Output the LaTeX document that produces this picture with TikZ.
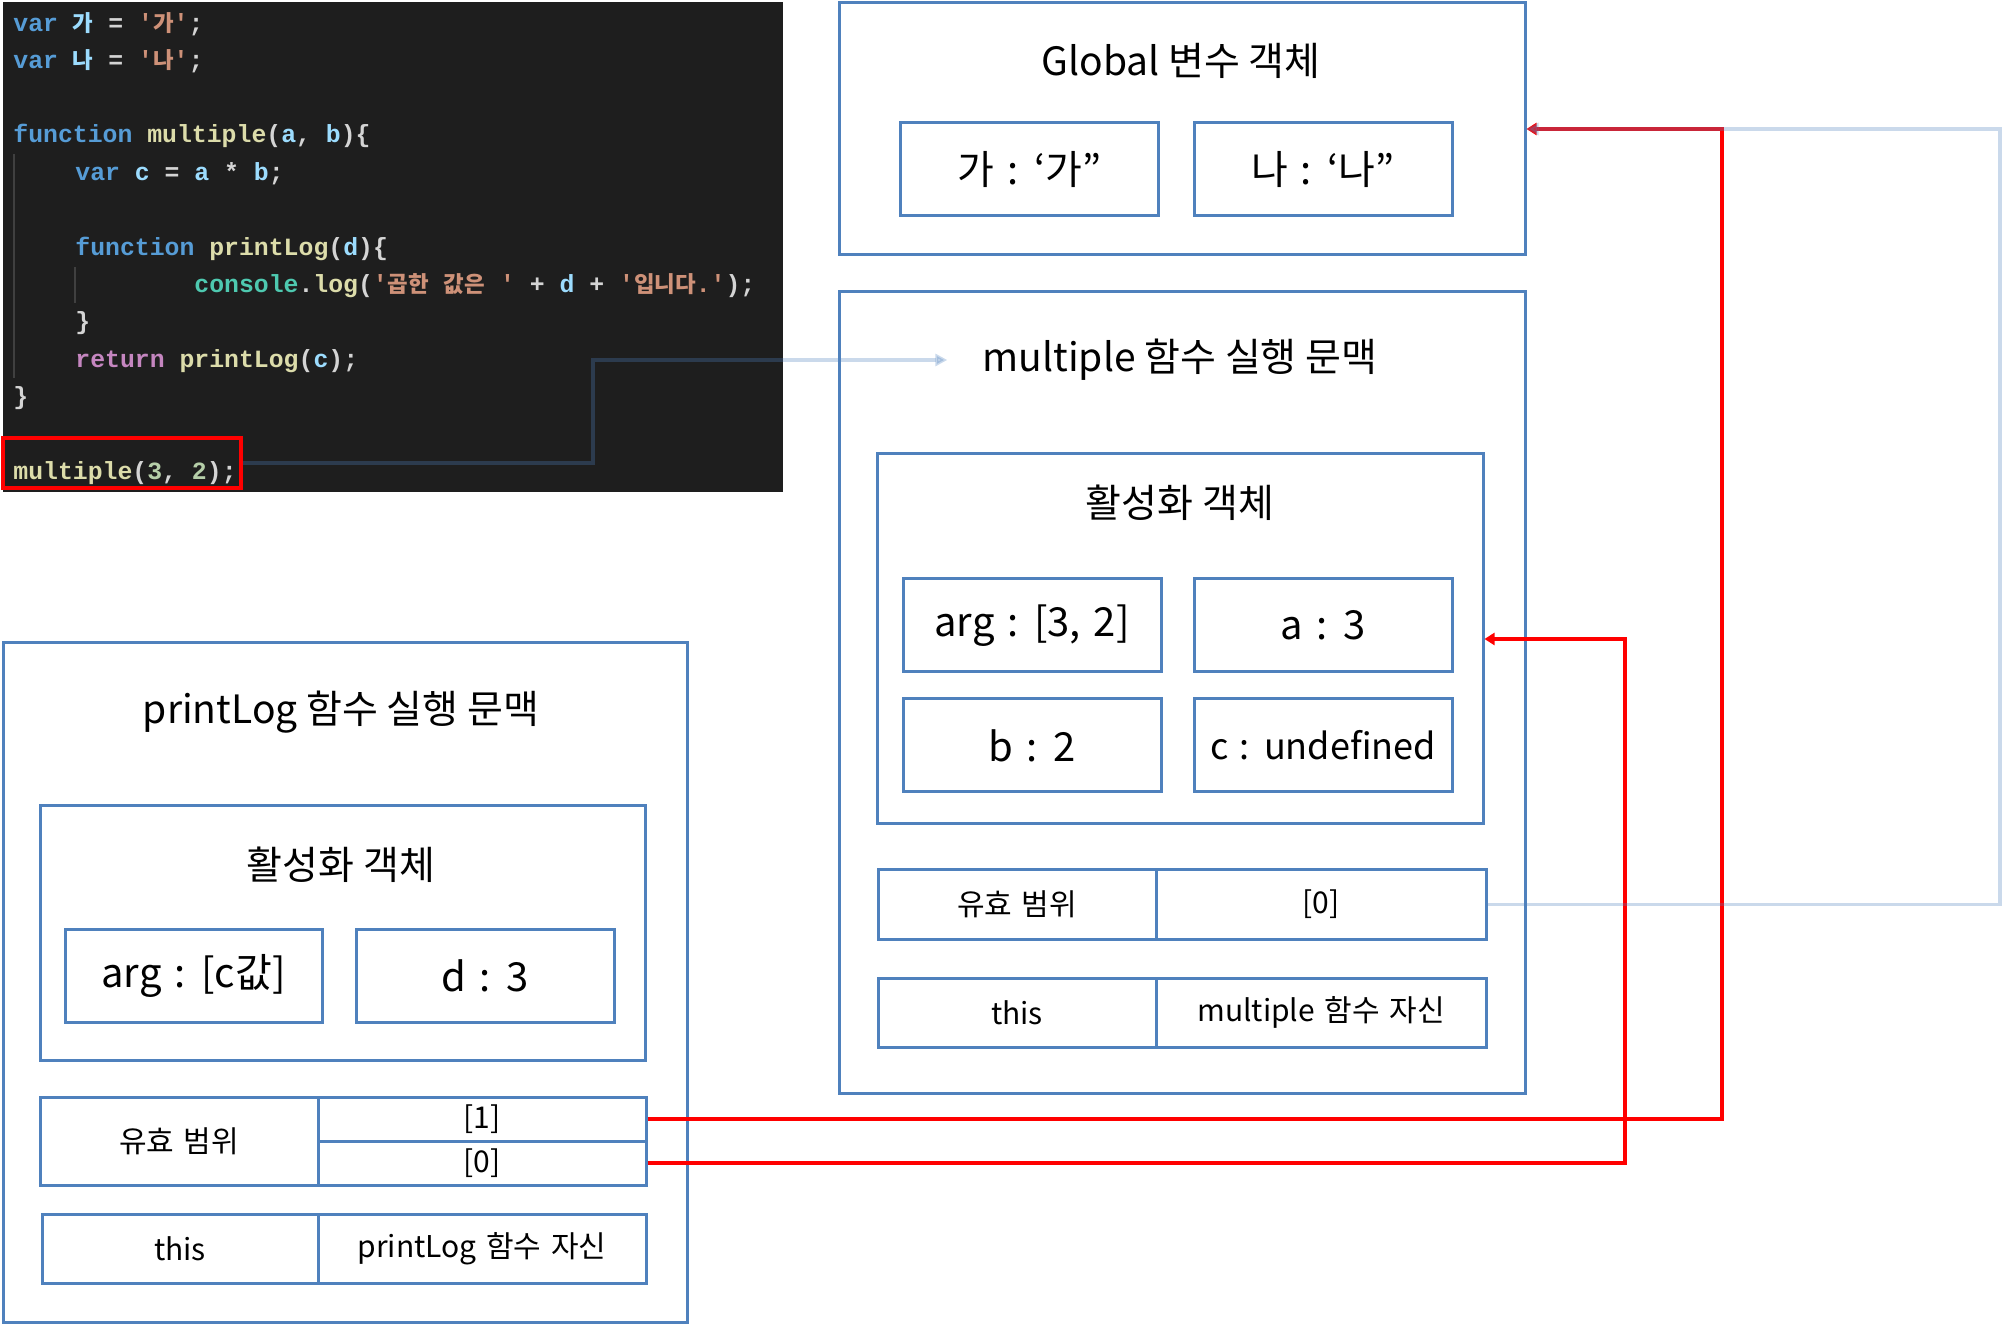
\documentclass[tikz,border=0pt]{standalone}
\usepackage{fontspec}
\setmainfont{Noto Sans CJK KR}
\newfontfamily\codefont{Liberation Mono}
\newfontfamily\codekr{Noto Sans CJK KR}
\usetikzlibrary{arrows.meta}
\definecolor{boxblue}{RGB}{79,129,189}
\definecolor{codebg}{RGB}{30,30,30}
\definecolor{guide}{RGB}{64,64,64}
\definecolor{plain}{RGB}{212,212,212}
\definecolor{kwblue}{RGB}{86,156,214}
\definecolor{varblue}{RGB}{156,220,254}
\definecolor{fnyellow}{RGB}{220,220,170}
\definecolor{strorange}{RGB}{206,145,120}
\definecolor{clsteal}{RGB}{78,201,176}
\definecolor{retpink}{RGB}{197,134,192}
\definecolor{numgreen}{RGB}{181,206,168}
\newcommand{\kwd}[1]{\textcolor{kwblue}{#1}}
\newcommand{\vname}[1]{\textcolor{varblue}{#1}}
\newcommand{\fnm}[1]{\textcolor{fnyellow}{#1}}
\newcommand{\strg}[1]{\textcolor{strorange}{#1}}
\newcommand{\clsn}[1]{\textcolor{clsteal}{#1}}
\newcommand{\retn}[1]{\textcolor{retpink}{#1}}
\newcommand{\numb}[1]{\textcolor{numgreen}{#1}}
\newcommand{\hk}[1]{{\codekr\fontsize{11.2}{14}\selectfont #1}}
\newcommand{\q}{\textquotesingle}
\newcommand{\widesp}{\spaceskip=0.32em\relax}

\tikzset{
  frame/.style={draw=boxblue, line width=1.5pt, inner sep=0pt},
  cell/.style={frame, minimum width=129pt, minimum height=46.5pt, font=\fontsize{20}{24}\selectfont\widesp},
  row/.style={frame, minimum height=34.5pt, font=\fontsize{15}{18}\selectfont\widesp},
  title/.style={inner sep=0pt, font=\fontsize{19.5}{24}\selectfont},
  codeline/.style={anchor=base west, inner sep=0pt, text=plain, font=\codefont\bfseries\fontsize{12.4}{14}\selectfont},
  redlink/.style={draw=red, line width=1.75pt, -{Triangle[length=5pt,width=6pt]}},
  bluelink/.style={draw=boxblue, opacity=0.3, line width=1.75pt, -{Triangle[length=6pt,width=6pt]}}
}

\begin{document}
\begin{tikzpicture}[x=0.5pt,y=-0.5pt]
\useasboundingbox (0,0) rectangle (2003,1325);

% code screenshot
\fill[codebg] (3,2) rectangle (783,492);
\draw[guide, line width=1pt] (14,154) -- (14,378);
\draw[guide, line width=1pt] (75,267) -- (75,303);
\node[codeline] (l1) at (13,32) {\kwd{var} \vname{\hk{가}} = \strg{\q\hk{가}\q};};
\node[codeline] (l2) at (13,69) {\kwd{var} \vname{\hk{나}} = \strg{\q\hk{나}\q};};
\node[codeline] (l3) at (13,143) {\kwd{function} \fnm{multiple}(\vname{a}, \vname{b})\{};
\node[codeline] (l4) at (75,181) {\kwd{var} \vname{c} = \vname{a} * \vname{b};};
\node[codeline] (l5) at (75,256) {\kwd{function} \fnm{printLog}(\vname{d})\{};
\node[codeline] (l6) at (194,293) {\clsn{console}.\fnm{log}(\strg{\q\hk{곱한} \hk{값은} \q} + \vname{d} + \strg{\q\hk{입니다}.\q});};
\node[codeline] (l7) at (75,330) {\}};
\node[codeline] (l8) at (75,368) {\retn{return} \fnm{printLog}(\vname{c});};
\node[codeline] (l9) at (13,405) {\}};
\node[codeline] (l10) at (13,480) {\fnm{multiple}(\numb{3}, \numb{2});};
\node[draw=red, line width=2pt, inner sep=0pt, minimum width=119pt, minimum height=25pt] (call) at (122,463) {};

% global variable object
\node[frame, minimum width=343pt, minimum height=126pt] (global) at (1182,129) {};
\node[title] (gtitle) at (1181,61) {Global 변수 객체};
\node[cell] (gga) at (1029.5,169.5) {가 : ‘가”};
\node[cell] (gna) at (1323,169.5) {나 : ‘나”};

% multiple context
\node[frame, minimum width=343pt, minimum height=400.5pt] (mctx) at (1182,692.5) {};
\node[title] (mtitle) at (1180,360) {multiple 함수 실행 문맥};
\node[frame, minimum width=303pt, minimum height=185pt] (mact) at (1180,639) {};
\node[title] (macttitle) at (1180,503) {활성화 객체};
\node[cell] (marg) at (1032,625.5) {arg : [3, 2]};
\node[cell] (ma) at (1323,625.5) {a : 3};
\node[cell] (mb) at (1032,745.5) {b : 2};
\node[cell, font=\fontsize{18}{22}\selectfont\widesp] (mc) at (1323,745.5) {c : undefined};
\node[row, minimum width=139pt] (mscopek) at (1017,904.5) {유효 범위};
\node[row, minimum width=165pt] (mscope0) at (1321,904.5) {[0]};
\node[row, minimum width=139pt] (mthis) at (1017,1012.5) {this};
\node[row, minimum width=165pt] (mself) at (1321,1012.5) {multiple 함수 자신};

% printLog context
\node[frame, minimum width=342pt, minimum height=339.5pt] (pctx) at (345,982.5) {};
\node[title] (ptitle) at (341,712) {printLog 함수 실행 문맥};
\node[frame, minimum width=302.5pt, minimum height=127pt] (pact) at (342.5,933) {};
\node[title] (pacttitle) at (341,865) {활성화 객체};
\node[cell, minimum width=128.5pt] (parg) at (193.5,975.5) {arg : [c값]};
\node[cell] (pd) at (485,975.5) {d : 3};
\node[row, minimum width=139pt, minimum height=44pt] (pscopek) at (179,1141) {유효 범위};
\node[row, minimum width=164pt, minimum height=22pt] (pscope1) at (482,1119) {[1]};
\node[row, minimum width=164pt, minimum height=22pt] (pscope0) at (482,1163) {[0]};
\node[row, minimum width=138pt] (pthis) at (180,1249) {this};
\node[row, minimum width=164pt] (pself) at (482,1249) {printLog 함수 자신};

% links
\coordinate (bend) at (593,0);
\coordinate (rx1) at (1722,0);
\coordinate (rx0) at (1625,0);
\coordinate (bx) at (2000,0);
\draw[bluelink, shorten >=17.5pt] (call.east) -- (call.east -| bend) |- (mtitle.west);
\draw[redlink] (pscope1.east) -- (pscope1.east -| rx1) |- (global.east);
\draw[redlink] (pscope0.east) -- (pscope0.east -| rx0) |- (mact.east);
\draw[bluelink] (mscope0.east) -- (mscope0.east -| bx) |- (global.east);
\end{tikzpicture}
\end{document}
